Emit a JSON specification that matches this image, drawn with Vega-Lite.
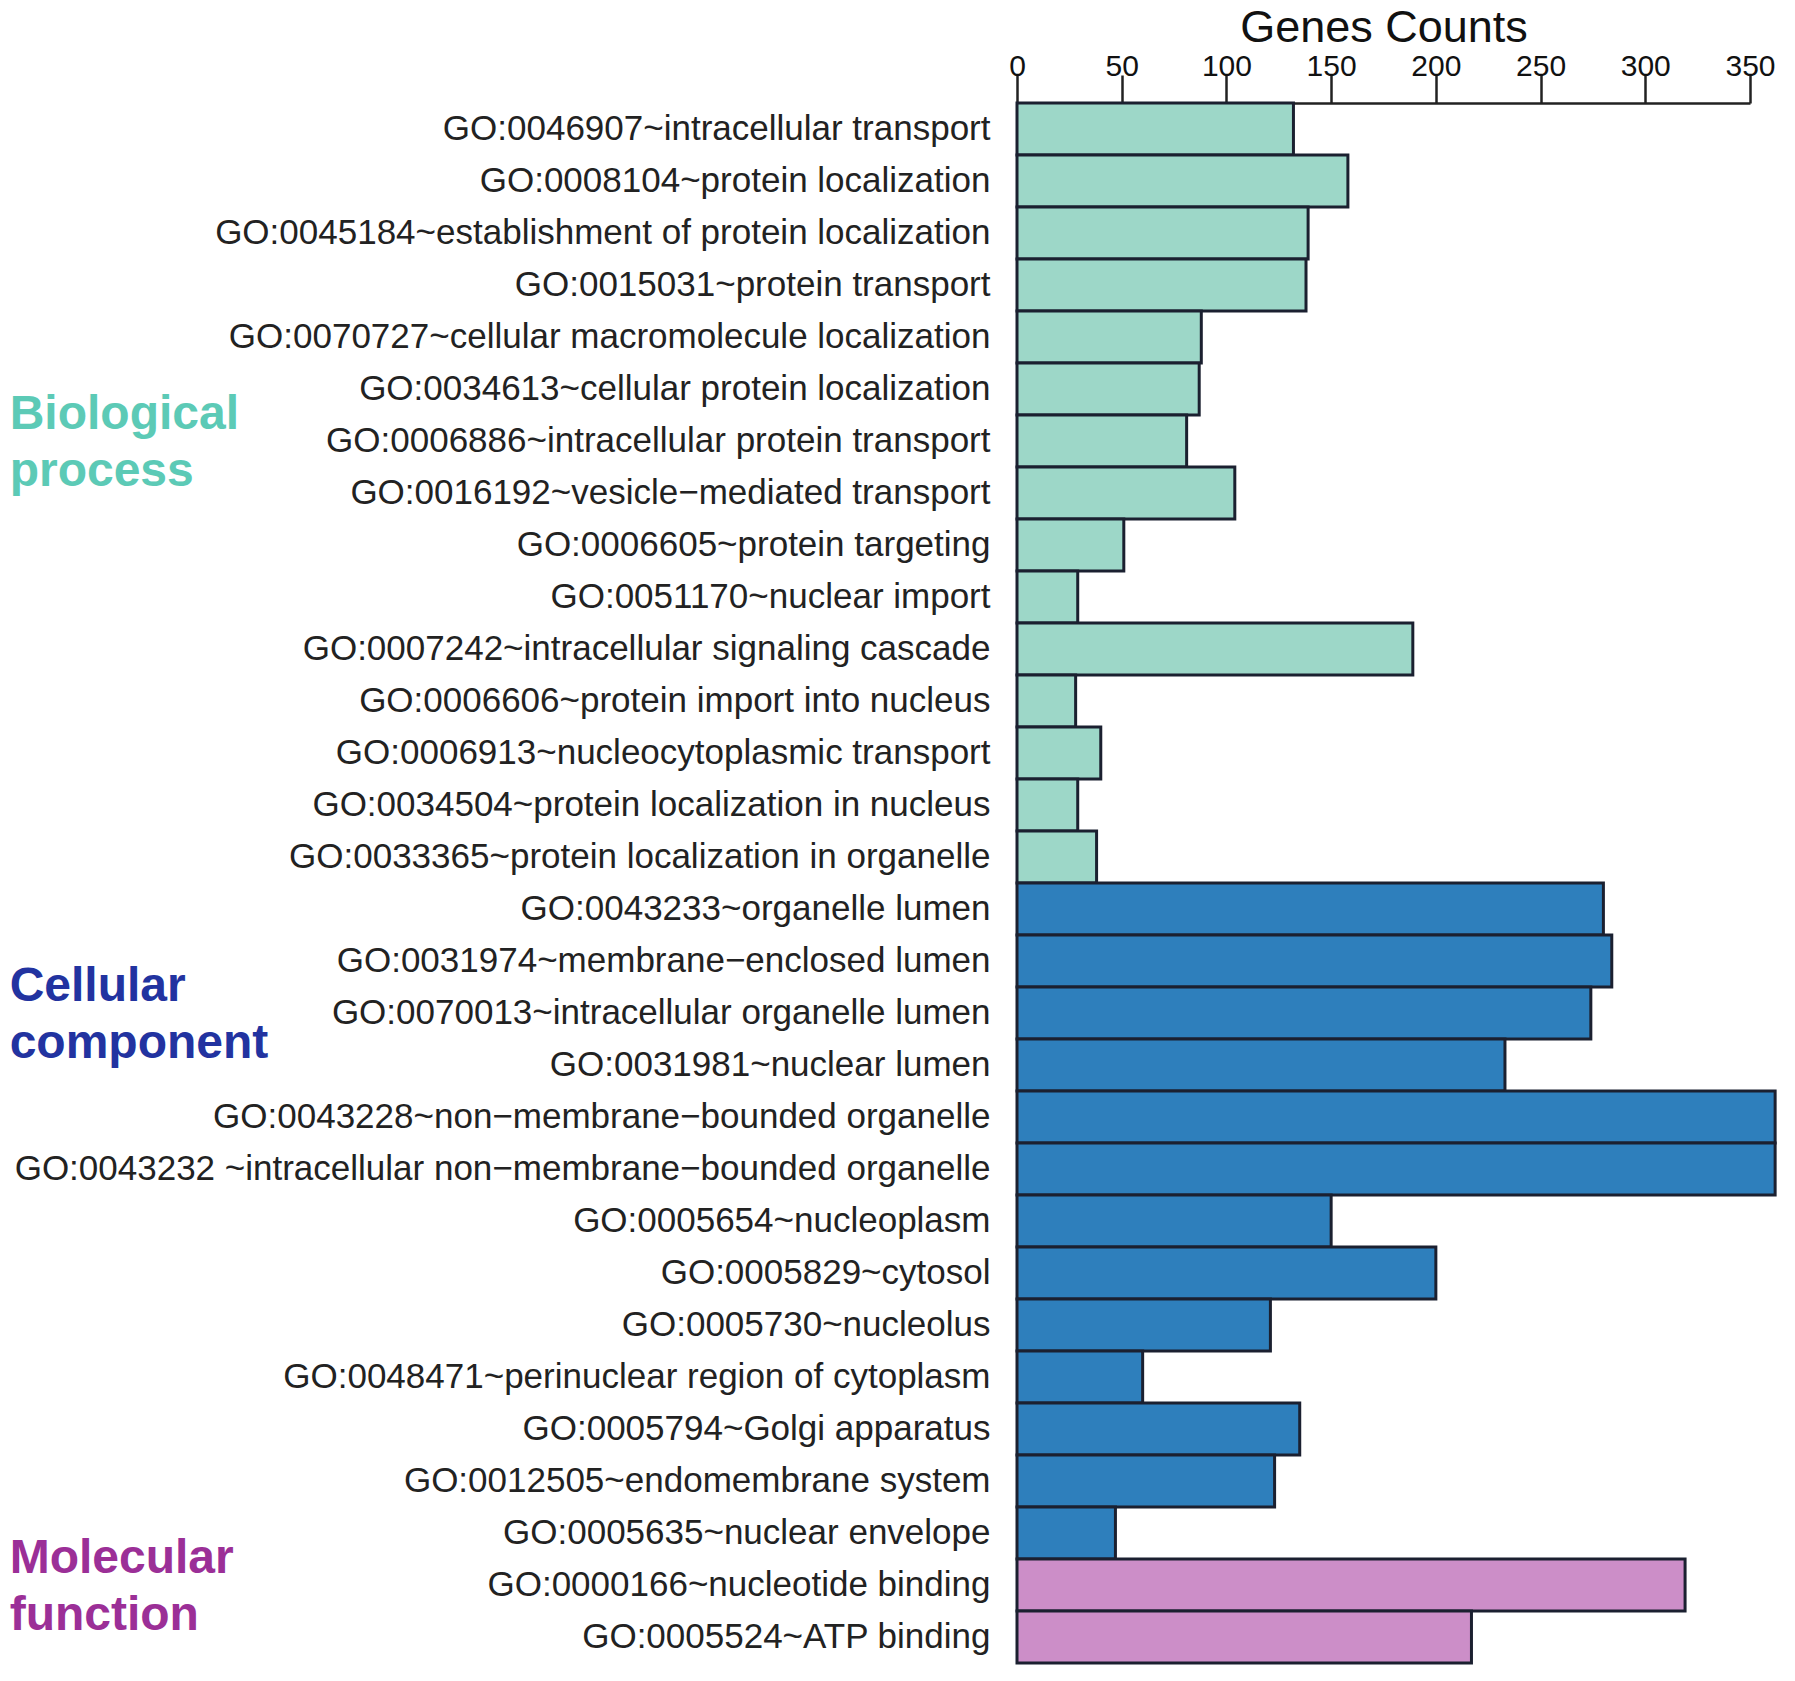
{
  "$schema": "https://vega.github.io/schema/vega-lite/v6.json",
  "autosize": {"type": "none"},
  "padding": {"left": 1017, "top": 103, "right": 45, "bottom": 18},
  "width": 733,
  "height": 1560,
  "background": "white",
  "config": {"view": {"stroke": null}, "font": "Liberation Sans"},
  "data": {
    "values": [
      {"term": "GO:0046907~intracellular transport", "count": 132, "category": "Biological process"},
      {"term": "GO:0008104~protein localization", "count": 158, "category": "Biological process"},
      {"term": "GO:0045184~establishment of protein localization", "count": 139, "category": "Biological process"},
      {"term": "GO:0015031~protein transport", "count": 138, "category": "Biological process"},
      {"term": "GO:0070727~cellular macromolecule localization", "count": 88, "category": "Biological process"},
      {"term": "GO:0034613~cellular protein localization", "count": 87, "category": "Biological process"},
      {"term": "GO:0006886~intracellular protein transport", "count": 81, "category": "Biological process", "group_label": "Biological\nprocess"},
      {"term": "GO:0016192~vesicle−mediated transport", "count": 104, "category": "Biological process"},
      {"term": "GO:0006605~protein targeting", "count": 51, "category": "Biological process"},
      {"term": "GO:0051170~nuclear import", "count": 29, "category": "Biological process"},
      {"term": "GO:0007242~intracellular signaling cascade", "count": 189, "category": "Biological process"},
      {"term": "GO:0006606~protein import into nucleus", "count": 28, "category": "Biological process"},
      {"term": "GO:0006913~nucleocytoplasmic transport", "count": 40, "category": "Biological process"},
      {"term": "GO:0034504~protein localization in nucleus", "count": 29, "category": "Biological process"},
      {"term": "GO:0033365~protein localization in organelle", "count": 38, "category": "Biological process"},
      {"term": "GO:0043233~organelle lumen", "count": 280, "category": "Cellular component"},
      {"term": "GO:0031974~membrane−enclosed lumen", "count": 284, "category": "Cellular component"},
      {"term": "GO:0070013~intracellular organelle lumen", "count": 274, "category": "Cellular component", "group_label": "Cellular\ncomponent"},
      {"term": "GO:0031981~nuclear lumen", "count": 233, "category": "Cellular component"},
      {"term": "GO:0043228~non−membrane−bounded organelle", "count": 362, "category": "Cellular component"},
      {"term": "GO:0043232 ~intracellular non−membrane−bounded organelle", "count": 362, "category": "Cellular component"},
      {"term": "GO:0005654~nucleoplasm", "count": 150, "category": "Cellular component"},
      {"term": "GO:0005829~cytosol", "count": 200, "category": "Cellular component"},
      {"term": "GO:0005730~nucleolus", "count": 121, "category": "Cellular component"},
      {"term": "GO:0048471~perinuclear region of cytoplasm", "count": 60, "category": "Cellular component"},
      {"term": "GO:0005794~Golgi apparatus", "count": 135, "category": "Cellular component"},
      {"term": "GO:0012505~endomembrane system", "count": 123, "category": "Cellular component"},
      {"term": "GO:0005635~nuclear envelope", "count": 47, "category": "Cellular component"},
      {"term": "GO:0000166~nucleotide binding", "count": 319, "category": "Molecular function", "group_label": "Molecular\nfunction"},
      {"term": "GO:0005524~ATP binding", "count": 217, "category": "Molecular function"}
    ]
  },
  "layer": [
    {
      "mark": {"type": "bar", "stroke": "#1b2030", "strokeWidth": 3},
      "encoding": {
        "y": {
          "field": "term", "type": "nominal", "sort": null,
          "scale": {"paddingInner": 0, "paddingOuter": 0},
          "axis": {"title": null, "domain": false, "ticks": false, "labelFontSize": 35, "labelPadding": 27, "labelColor": "#222222", "labelLimit": 1100}
        },
        "x": {
          "field": "count", "type": "quantitative",
          "scale": {"domain": [0, 350], "nice": false},
          "axis": {
            "orient": "top", "title": "Genes Counts", "titleFontSize": 45, "titleFontWeight": "normal", "titleColor": "#111111",
            "titleY": -62, "titleBaseline": "alphabetic",
            "values": [0, 50, 100, 150, 200, 250, 300, 350],
            "tickSize": 28, "tickWidth": 2.5, "tickColor": "#222222", "domainColor": "#222222", "domainWidth": 2.5,
            "labelFontSize": 30, "labelColor": "#111111", "labelPadding": 0, "labelBaseline": "alphabetic",
            "labelFlush": false, "labelOverlap": false, "grid": false
          }
        },
        "color": {
          "field": "category", "type": "nominal",
          "scale": {"domain": ["Biological process", "Cellular component", "Molecular function"], "range": ["#9dd7c8", "#2e7fbc", "#cc8ec8"]},
          "legend": null
        }
      }
    },
    {
      "transform": [{"filter": "datum.group_label"}],
      "mark": {"type": "text", "align": "left", "baseline": "middle", "fontSize": 48, "fontWeight": "bold", "lineBreak": "\n", "lineHeight": 57, "dy": -26},
      "encoding": {
        "y": {"field": "term", "type": "nominal", "sort": null},
        "x": {"datum": -481},
        "text": {"field": "group_label"},
        "color": {
          "field": "category", "type": "nominal",
          "scale": {"domain": ["Biological process", "Cellular component", "Molecular function"], "range": ["#5ccab6", "#2233a0", "#9b2f97"]},
          "legend": null
        }
      }
    }
  ],
  "resolve": {"scale": {"color": "independent"}}
}
